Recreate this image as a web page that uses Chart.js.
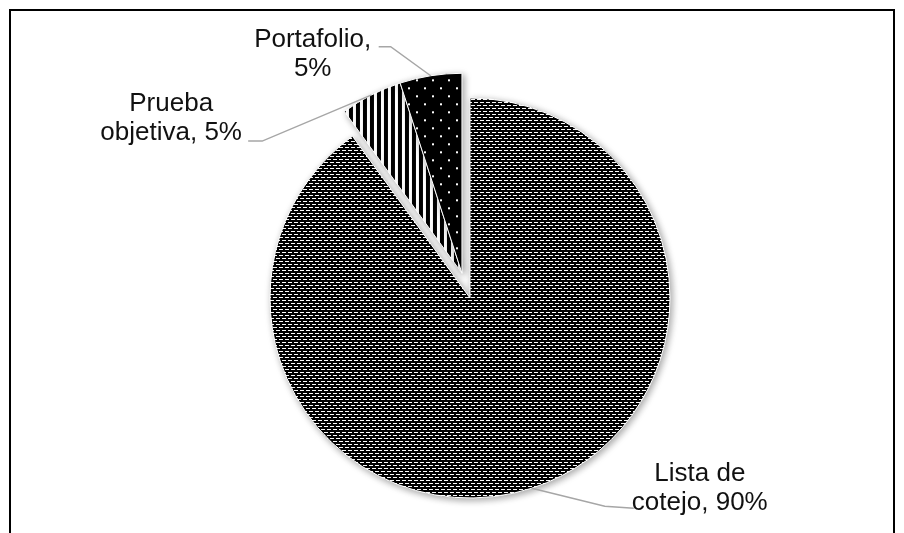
<!DOCTYPE html>
<html lang="es">

<head>
  <meta charset="UTF-8">
  <title>Instrumentos de evaluación</title>
  <script src="https://cdn.jsdelivr.net/npm/chart.js"></script>
  <style>
    body { margin: 0; background: #fff; }
    .caja { position: relative; width: 904px; height: 533px; overflow: hidden; }
    .marco { position: absolute; left: 9px; top: 9px; width: 882px; height: 600px; border: 2px solid #000; }
    canvas { position: absolute; left: 0; top: 0; }
  </style>
</head>

<body>
  <div class="caja">
    <div class="marco"></div>
    <canvas id="grafico" width="904" height="533"></canvas>
  </div>
</body>
<script>
  // datos
  const categorias = ['Lista de cotejo', 'Prueba objetiva', 'Portafolio'];
  const porcentajes = [90, 5, 5];
  const etiquetas = [['Lista de', 'cotejo, 90%'], ['Prueba', 'objetiva, 5%'], ['Portafolio,', '5%']];

  // tramas en blanco y negro
  function trama(w, h, dibujar) {
    const c = document.createElement('canvas');
    c.width = w; c.height = h;
    const g = c.getContext('2d');
    g.fillStyle = '#000';
    g.fillRect(0, 0, w, h);
    g.fillStyle = '#fff';
    dibujar(g);
    return document.getElementById('grafico').getContext('2d').createPattern(c, 'repeat');
  }

  const tramaLista = trama(12, 6, g => {
    g.fillRect(0, 0, 4, 1); g.fillRect(6, 0, 4, 1);
    g.fillRect(3, 3, 4, 1); g.fillRect(9, 3, 3, 1); g.fillRect(0, 3, 1, 1);
  });
  const tramaRayas = trama(7, 1, g => g.fillRect(4, 0, 3, 1));
  const tramaPuntos = trama(16, 16, g => {
    g.fillRect(0, 0, 2, 2); g.fillRect(8, 8, 2, 2);
  });

  // separacion de las porciones pequeñas (se mueven juntas) y posicion de las etiquetas
  const separacion = [0, 26, 26];
  const posEtiquetas = [
    { dx: 168, dy: 0, codo: [73, 18], fin: [102, 20] },
    { dx: -200, dy: 23, codo: [-109, 46], fin: [-123, 46] },
    { dx: -118, dy: -21, codo: [-40, -29], fin: [-52, -29] }
  ];

  function desplazamiento(chart, i) {
    if (!separacion[i]) return [0, 0];
    const arcos = chart.getDatasetMeta(0).data;
    let suma = 0, n = 0;
    arcos.forEach((a, k) => {
      if (separacion[k]) { suma += (a.startAngle + a.endAngle) / 2; n++; }
    });
    const ang = suma / n;
    return [Math.cos(ang) * separacion[i], Math.sin(ang) * separacion[i]];
  }

  // dibuja las porciones separadas y con sombra
  const porciones = {
    id: 'porciones',
    beforeDatasetDraw(chart, args) {
      const c = chart.ctx;
      args.meta.data.forEach((arco, i) => {
        const d = desplazamiento(chart, i);
        c.save();
        c.shadowColor = 'rgba(0,0,0,0.35)';
        c.shadowBlur = 7;
        c.shadowOffsetX = 2;
        c.shadowOffsetY = 2;
        c.translate(d[0], d[1]);
        arco.draw(c);
        c.restore();
      });
      return false;
    }
  };

  const rotulos = {
    id: 'rotulos',
    afterDraw(chart) {
      const c = chart.ctx;
      const arcos = chart.getDatasetMeta(0).data;
      c.save();
      c.font = '26px "Liberation Sans", Arial, sans-serif';
      c.textAlign = 'center';
      c.textBaseline = 'middle';
      arcos.forEach((arco, i) => {
        const p = arco.getProps(['x', 'y', 'startAngle', 'endAngle', 'outerRadius']);
        const d = desplazamiento(chart, i);
        const medio = (p.startAngle + p.endAngle) / 2;
        const ax = p.x + d[0] + Math.cos(medio) * p.outerRadius;
        const ay = p.y + d[1] + Math.sin(medio) * p.outerRadius;
        const pos = posEtiquetas[i];

        c.strokeStyle = '#a6a6a6';
        c.lineWidth = 1.5;
        c.beginPath();
        c.moveTo(ax, ay);
        c.lineTo(ax + pos.codo[0], ay + pos.codo[1]);
        c.lineTo(ax + pos.fin[0], ay + pos.fin[1]);
        c.stroke();

        c.fillStyle = '#111';
        const lineas = etiquetas[i];
        lineas.forEach((t, j) => {
          c.fillText(t, ax + pos.dx, ay + pos.dy + (j - (lineas.length - 1) / 2) * 29);
        });
      });
      c.restore();
    }
  };

  const ctx = document.getElementById('grafico').getContext('2d');
  const grafico = new Chart(ctx, {
    type: 'pie',
    data: {
      labels: categorias,
      datasets: [{
        data: porcentajes,
        backgroundColor: [tramaLista, tramaRayas, tramaPuntos],
        borderColor: '#fff',
        borderWidth: 1,
        radius: 200
      }]
    },
    options: {
      responsive: false,
      animation: false,
      layout: { padding: { left: 36, right: 0, top: 63, bottom: 0 } },
      plugins: {
        legend: { display: false },
        tooltip: { enabled: false }
      }
    },
    plugins: [porciones, rotulos]
  });
</script>

</html>
